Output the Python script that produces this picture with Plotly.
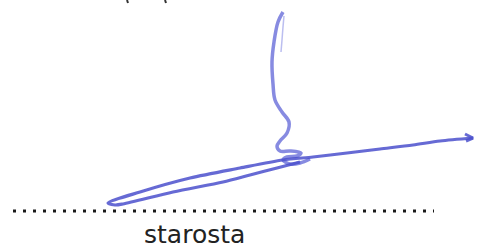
import plotly.graph_objects as go

# Signature strokes (pixel coordinates, y downward)
upper_stroke_x = [283, 278, 274, 272, 273, 275, 282, 289, 287, 280, 277, 280, 290, 301, 297, 287, 283, 290, 300, 310]
upper_stroke_y = [12, 22, 42, 62, 84, 100, 112, 122, 133, 141, 146, 151, 151, 153, 156, 157, 160, 164, 163, 159]

faint_stroke_x = [284, 283, 282, 281]
faint_stroke_y = [16, 27, 40, 52]

long_stroke_x = [473, 440, 413, 380, 347, 313, 283, 240, 190, 140, 108, 115, 123, 173, 223, 250, 277, 300]
long_stroke_y = [138, 141, 145, 149, 153, 157, 160, 168, 178, 192, 203, 205, 204, 192, 182, 175, 168, 162]

arrow_x = [465, 473, 466]
arrow_y = [134, 138, 141]

dotted_x = [13, 434]
dotted_y = [211, 211]

top_marks_x = [[127, 128], [165, 166]]
top_marks_y = [[0, 3], [0, 3]]

label_text = "starosta"

fig = go.Figure()

sig_color = "rgba(75, 80, 205, 0.85)"
faint_color = "rgba(120, 125, 225, 0.5)"

fig.add_trace(go.Scatter(x=faint_stroke_x, y=faint_stroke_y, mode="lines",
                         line=dict(color=faint_color, width=1.5, shape="spline"),
                         hoverinfo="skip"))
fig.add_trace(go.Scatter(x=upper_stroke_x, y=upper_stroke_y, mode="lines",
                         line=dict(color="rgba(95, 100, 215, 0.75)", width=3.5, shape="spline", smoothing=1.0),
                         hoverinfo="skip"))
fig.add_trace(go.Scatter(x=long_stroke_x, y=long_stroke_y, mode="lines",
                         line=dict(color=sig_color, width=3.2, shape="spline", smoothing=0.8),
                         hoverinfo="skip"))
fig.add_trace(go.Scatter(x=arrow_x, y=arrow_y, mode="lines",
                         line=dict(color=sig_color, width=3),
                         hoverinfo="skip"))
fig.add_trace(go.Scatter(x=dotted_x, y=dotted_y, mode="lines",
                         line=dict(color="#1a1a1a", width=3, dash="3px,7px"),
                         hoverinfo="skip"))
for mx, my in zip(top_marks_x, top_marks_y):
    fig.add_trace(go.Scatter(x=mx, y=my, mode="lines",
                             line=dict(color="#333333", width=2),
                             hoverinfo="skip"))

fig.add_annotation(x=194, y=234, text=label_text, showarrow=False,
                   xanchor="center", yanchor="middle",
                   font=dict(family="DejaVu Sans", size=25, color="#222222"))

fig.update_layout(
    width=477, height=248,
    margin=dict(l=0, r=0, t=0, b=0),
    paper_bgcolor="white", plot_bgcolor="white",
    showlegend=False,
    xaxis=dict(range=[0, 477], visible=False, fixedrange=True),
    yaxis=dict(range=[248, 0], visible=False, fixedrange=True),
)

fig.write_html("out.html", config={"displayModeBar": False},
               post_script="document.body.style.margin='0';document.body.style.overflow='hidden';")
